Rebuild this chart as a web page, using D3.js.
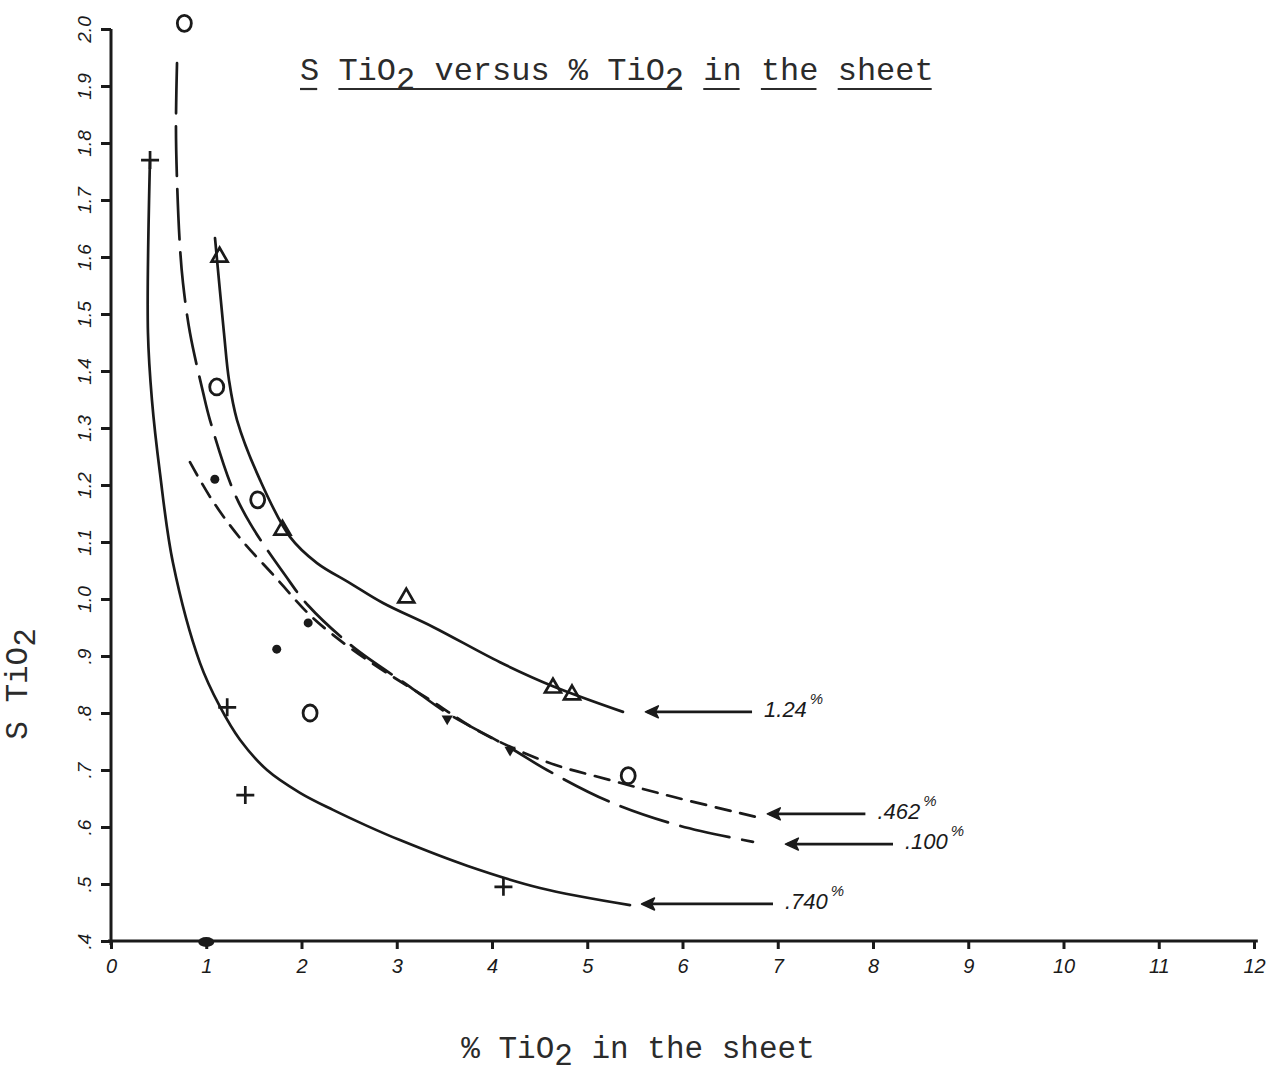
<!DOCTYPE html>
<html>
<head>
<meta charset="utf-8">
<script src="https://cdn.jsdelivr.net/npm/d3@7"></script>
<style>
body { margin: 0; background: #fff; }
svg { display: block; }
.hand { font-family: "Liberation Sans", sans-serif; font-style: italic; fill: #1a1a1a; }
.type { font-family: "Liberation Mono", monospace; fill: #2b2b2b; }
.axis path, .axis line { stroke: #1a1a1a; stroke-width: 3; }
</style>
</head>
<body>
<div id="chart"></div>
<script>
// tick values and labels
const xTicks = [0, 1, 2, 3, 4, 5, 6, 7, 8, 9, 10, 11, 12];
const yTicks = [0.4, 0.5, 0.6, 0.7, 0.8, 0.9, 1.0, 1.1, 1.2, 1.3, 1.4, 1.5, 1.6, 1.7, 1.8, 1.9, 2.0];
const yTickLabels = [".4", ".5", ".6", ".7", ".8", ".9", "1.0", "1.1", "1.2", "1.3", "1.4", "1.5", "1.6", "1.7", "1.8", "1.9", "2.0"];

// fitted curves, [ % TiO2 , S TiO2 ]
const curve740 = [[0.409,1.770],[0.388,1.467],[0.430,1.349],[0.514,1.221],[0.651,1.063],[0.934,0.888],
  [1.144,0.811],[1.354,0.753],[1.638,0.700],[1.984,0.660],[2.331,0.630],[2.688,0.602],[3.034,0.577],
  [3.738,0.532],[4.504,0.493],[5.449,0.463]];
const curve124 = [[1.092,1.633],[1.186,1.467],[1.239,1.384],[1.323,1.314],[1.564,1.209],[1.879,1.109],
  [2.163,1.063],[2.509,1.028],[2.856,0.993],[3.381,0.951],[4.084,0.889],[4.640,0.847],[5.375,0.802]];
const curve462 = [[0.829,1.240],[1.060,1.174],[1.354,1.107],[1.722,1.039],[2.068,0.975],[2.331,0.937],
  [2.751,0.886],[3.349,0.823],[3.874,0.767],[4.577,0.714],[5.270,0.681],[5.900,0.653],[6.814,0.616]];
const curve100 = [[0.693,1.940],[0.682,1.828],[0.693,1.735],[0.724,1.618],[0.756,1.554],[0.829,1.467],
  [0.966,1.363],[1.039,1.314],[1.270,1.196],[1.459,1.133],[1.827,1.042],[2.068,0.989],[2.541,0.916],
  [3.139,0.846],[3.528,0.800],[4.189,0.739],[4.577,0.700],[5.239,0.644],[5.974,0.602],[6.740,0.574]];

// plotted points
const crosses = [[0.41,1.77],[1.22,0.81],[1.41,0.656],[4.12,0.495]];
const triangles = [[1.14,1.60],[1.80,1.121],[3.10,1.002],[4.64,0.844],[4.84,0.832]];
const circles = [[0.77,2.01],[1.11,1.372],[1.54,1.174],[2.09,0.80],[5.43,0.69]];
const dots = [[1.09,1.21],[2.07,0.958],[1.74,0.912]];
const lineMarks = [[3.53,0.79],[4.19,0.735]];
const blob = [[1.0,0.4]];

// curve labels with arrows
const labelText = ["1.24", ".462", ".100", ".740"];
const arrowTip = [5.61, 6.89, 7.08, 5.57];
const arrowTail = [6.73, 7.92, 8.21, 6.95];
const arrowY = [0.802, 0.623, 0.570, 0.465];

const ink = "#1a1a1a";
const margin = {top: 29, left: 111, right: 28, bottom: 135};
const width = 1282 - margin.left - margin.right;
const height = 1076 - margin.top - margin.bottom;

const svg = d3.select("#chart").append("svg")
    .attr("width", 1282)
    .attr("height", 1076);

const g = svg.append("g")
    .attr("transform", `translate(${margin.left},${margin.top})`);

const x = d3.scaleLinear().domain([0, 12]).range([0, width]);
const y = d3.scaleLinear().domain([0.4, 2.0]).range([height, 0]);

// axes
const xAxis = d3.axisBottom(x).tickValues(xTicks).tickSize(8).tickSizeOuter(0).tickPadding(10);
const yAxis = d3.axisLeft(y).tickValues(yTicks).tickSize(10).tickSizeOuter(0)
    .tickFormat((d, i) => yTickLabels[i]);

const xg = g.append("g").attr("class", "axis")
    .attr("transform", `translate(0,${height})`)
    .call(xAxis);
xg.selectAll("text").attr("class", "hand").style("font-size", "20px");
xg.select(".domain").attr("d", `M${-3},0H${x(12.04)}`);

const yg = g.append("g").attr("class", "axis").call(yAxis);
yg.selectAll("text")
    .attr("class", "hand")
    .style("font-size", "19px")
    .attr("x", 0).attr("dy", "0.35em")
    .attr("text-anchor", "middle")
    .attr("transform", "translate(-27,0) rotate(-90)");
yg.select(".domain").attr("d", `M0,0V${height + 4}`);

// curves
const line = d3.line()
    .x(d => x(d[0]))
    .y(d => y(d[1]))
    .curve(d3.curveCatmullRom.alpha(0.5));

const curves = [
  {pts: curve740, dash: null},
  {pts: curve124, dash: null},
  {pts: curve462, dash: "15,10"},
  {pts: curve100, dash: "50,13"}
];

g.selectAll(".curve")
  .data(curves)
  .join("path")
    .attr("class", "curve")
    .attr("d", d => line(d.pts))
    .attr("fill", "none")
    .attr("stroke", ink)
    .attr("stroke-width", 2.7)
    .attr("stroke-linecap", "round")
    .attr("stroke-dasharray", d => d.dash);

// markers
g.selectAll(".cross")
  .data(crosses)
  .join("path")
    .attr("transform", d => `translate(${x(d[0])},${y(d[1])})`)
    .attr("d", "M-9,0H9M0,-9V9")
    .attr("stroke", ink).attr("stroke-width", 2.7);

g.selectAll(".tri")
  .data(triangles)
  .join("path")
    .attr("transform", d => `translate(${x(d[0])},${y(d[1])})`)
    .attr("d", d3.symbol(d3.symbolTriangle, 110))
    .attr("fill", "none").attr("stroke", ink).attr("stroke-width", 2.7);

g.selectAll(".circ")
  .data(circles)
  .join("ellipse")
    .attr("cx", d => x(d[0])).attr("cy", d => y(d[1]))
    .attr("rx", 7).attr("ry", 8)
    .attr("fill", "none").attr("stroke", ink).attr("stroke-width", 2.8);

g.selectAll(".dot")
  .data(dots)
  .join("circle")
    .attr("cx", d => x(d[0])).attr("cy", d => y(d[1]))
    .attr("r", 4.5)
    .attr("fill", ink);

g.selectAll(".mark")
  .data(lineMarks)
  .join("path")
    .attr("transform", d => `translate(${x(d[0])},${y(d[1])}) rotate(180)`)
    .attr("d", d3.symbol(d3.symbolTriangle, 55))
    .attr("fill", ink);

g.selectAll(".blob")
  .data(blob)
  .join("ellipse")
    .attr("cx", d => x(d[0])).attr("cy", d => y(d[1]) + 1)
    .attr("rx", 8).attr("ry", 5)
    .attr("fill", ink);

// arrows and curve labels
const ann = g.selectAll(".ann")
  .data(labelText)
  .join("g");

ann.append("line")
    .attr("x1", (d, i) => x(arrowTip[i]) + 2).attr("x2", (d, i) => x(arrowTail[i]))
    .attr("y1", (d, i) => y(arrowY[i])).attr("y2", (d, i) => y(arrowY[i]))
    .attr("stroke", ink).attr("stroke-width", 2.7);

ann.append("path")
    .attr("transform", (d, i) => `translate(${x(arrowTip[i])},${y(arrowY[i])})`)
    .attr("d", "M0,0L13,-6L10,0L13,6Z")
    .attr("fill", ink).attr("stroke", ink).attr("stroke-width", 1.5)
    .attr("stroke-linejoin", "round");

const lbl = ann.append("text")
    .attr("class", "hand")
    .attr("x", (d, i) => x(arrowTail[i]) + 12)
    .attr("y", (d, i) => y(arrowY[i]) + 5)
    .style("font-size", "22px");
lbl.append("tspan").text(d => d);
lbl.append("tspan").text("%")
    .attr("dx", 3).attr("dy", -13)
    .style("font-size", "15px");

// title with typewriter underlines
const titleSize = 32;
const title = svg.append("text")
    .attr("class", "type")
    .attr("x", 300).attr("y", 80)
    .style("font-size", titleSize + "px")
    .attr("xml:space", "preserve");
title.append("tspan").text("S TiO");
title.append("tspan").text("2").attr("dy", 9);
title.append("tspan").text(" versus % TiO").attr("dy", -9);
title.append("tspan").text("2").attr("dy", 9);
title.append("tspan").text(" in the sheet").attr("dy", -9);

const cw = title.node().getComputedTextLength() / 33;
const underlines = [[0, 1], [2, 20], [21, 23], [24, 27], [28, 33]];
svg.selectAll(".ul")
  .data(underlines)
  .join("line")
    .attr("x1", d => 300 + d[0] * cw).attr("x2", d => 300 + d[1] * cw - 2)
    .attr("y1", 89).attr("y2", 89)
    .attr("stroke", "#2b2b2b").attr("stroke-width", 2.2);

// axis titles
const xt = svg.append("text")
    .attr("class", "type")
    .attr("x", 638).attr("y", 1058)
    .attr("text-anchor", "middle")
    .style("font-size", "31px")
    .attr("xml:space", "preserve");
xt.append("tspan").text("% TiO");
xt.append("tspan").text("2").attr("dy", 7);
xt.append("tspan").text(" in the sheet").attr("dy", -7);

const yt = svg.append("text")
    .attr("class", "type")
    .attr("transform", "translate(27,684) rotate(-90)")
    .attr("text-anchor", "middle")
    .style("font-size", "31px")
    .attr("xml:space", "preserve");
yt.append("tspan").text("S TiO");
yt.append("tspan").text("2").attr("dy", 8);
</script>
</body>
</html>
